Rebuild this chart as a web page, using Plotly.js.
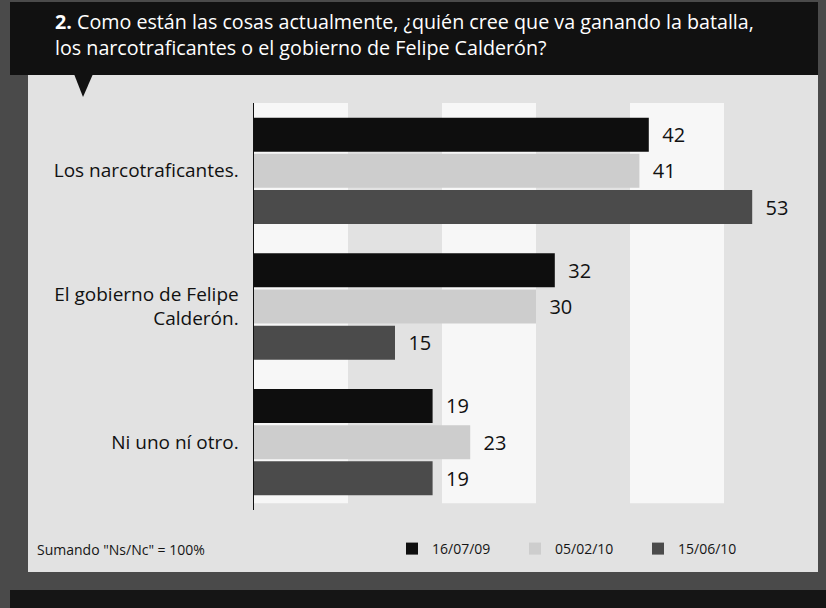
<!DOCTYPE html>
<html>
<head>
<meta charset="utf-8">
<script src="https://cdn.plot.ly/plotly-3.0.1.min.js"></script>
<style>
  html, body { margin: 0; padding: 0; background: #4a4a4a; }
  #chart { width: 826px; height: 608px; }
</style>
</head>
<body>
<div id="chart"></div>
<script>
// ---- data ----
const categories = ["Los narcotraficantes.", "El gobierno de Felipe<br>Calderón.", "Ni uno ní otro."];
const seriesNames = ["16/07/09", "05/02/10", "15/06/10"];
const values0907 = [42, 32, 19];
const values1002 = [41, 30, 23];
const values1006 = [53, 15, 19];
const titleText = "<b>2.</b> Como están las cosas actualmente, ¿quién cree que va ganando la batalla,<br>los narcotraficantes o el gobierno de Felipe Calderón?";
const noteText = "Sumando \"Ns/Nc\" = 100%";

// ---- geometry helpers (pixel -> paper) ----
const W = 826, H = 608;
const mL = 254, mR = 8, mT = 103, mB = 98;
const pw = W - mL - mR, ph = H - mT - mB;
const px = v => (v - mL) / pw;
const py = v => (H - mB - v) / ph;

const FONT = "Open Sans, Noto Sans, sans-serif";
const colors = ["#0e0e0e", "#cdcdcd", "#4b4b4b"];
const seriesValues = [values0907, values1002, values1006];

const traces = seriesNames.map((name, i) => ({
  type: "bar",
  orientation: "h",
  name: name,
  y: categories,
  x: seriesValues[i],
  marker: { color: colors[i], line: { width: 0 } },
  text: seriesValues[i].map(v => "\u00a0\u00a0" + v),
  textposition: "outside",
  textfont: { family: FONT, size: 20, color: "#111111" },
  cliponaxis: false,
  hoverinfo: "skip"
}));

const shapes = [
  // light panel
  { type: "rect", xref: "paper", yref: "paper", layer: "below",
    x0: px(28), x1: px(818), y0: py(572), y1: py(74),
    fillcolor: "#e2e2e2", line: { width: 0 } },
  // header bar
  { type: "rect", xref: "paper", yref: "paper", layer: "below",
    x0: px(10), x1: px(818), y0: py(75), y1: py(2),
    fillcolor: "#111111", line: { width: 0 } },
  // header pointer
  { type: "path", xref: "paper", yref: "paper", layer: "below",
    path: `M ${px(74)} ${py(74)} L ${px(93)} ${py(74)} L ${px(83)} ${py(97)} Z`,
    fillcolor: "#111111", line: { width: 0 } },
  // bottom strip (next question)
  { type: "rect", xref: "paper", yref: "paper", layer: "below",
    x0: px(10), x1: px(826), y0: py(608), y1: py(590),
    fillcolor: "#151515", line: { width: 0 } }
];
// white vertical bands every other 10 units
[[0, 10], [20, 30], [40, 50]].forEach(b => shapes.push({
  type: "rect", xref: "x", yref: "y", layer: "below",
  x0: b[0], x1: b[1], y0: -0.55, y1: 2.45,
  fillcolor: "#f7f7f7", line: { width: 0 }
}));

const layout = {
  width: W, height: H,
  margin: { l: mL, r: mR, t: mT, b: mB, pad: 0 },
  paper_bgcolor: "#4a4a4a",
  plot_bgcolor: "rgba(0,0,0,0)",
  font: { family: FONT, color: "#151515" },
  title: {
    text: titleText,
    font: { family: FONT, size: 19.7, color: "#ffffff" },
    xref: "container", yref: "container",
    x: 55 / W, xanchor: "left",
    y: 1 - 29 / H, yanchor: "middle"
  },
  barmode: "group",
  bargap: 0.2,
  bargroupgap: 0.06,
  xaxis: {
    range: [0, 60],
    showgrid: false, zeroline: false, showticklabels: false, ticks: "",
    fixedrange: true
  },
  yaxis: {
    range: [2.5, -0.5],
    showgrid: false, zeroline: false, ticks: "",
    showline: true, linecolor: "#111111", linewidth: 1.5,
    ticklabelstandoff: 10,
    tickfont: { family: FONT, size: 19, color: "#111111" },
    fixedrange: true
  },
  shapes: shapes,
  showlegend: true,
  legend: {
    orientation: "h",
    x: px(392), xanchor: "left",
    y: py(549), yanchor: "middle",
    font: { family: FONT, size: 14, color: "#151515" },
    bgcolor: "rgba(0,0,0,0)",
    traceorder: "normal",
    entrywidth: 78,
    itemclick: false, itemdoubleclick: false
  },
  annotations: [
    { text: noteText, xref: "paper", yref: "paper",
      x: px(35), y: py(549), xanchor: "left", yanchor: "middle",
      showarrow: false, font: { family: FONT, size: 14, color: "#151515" } }
  ]
};

Plotly.newPlot("chart", traces, layout, { displayModeBar: false, staticPlot: true });
</script>
</body>
</html>
